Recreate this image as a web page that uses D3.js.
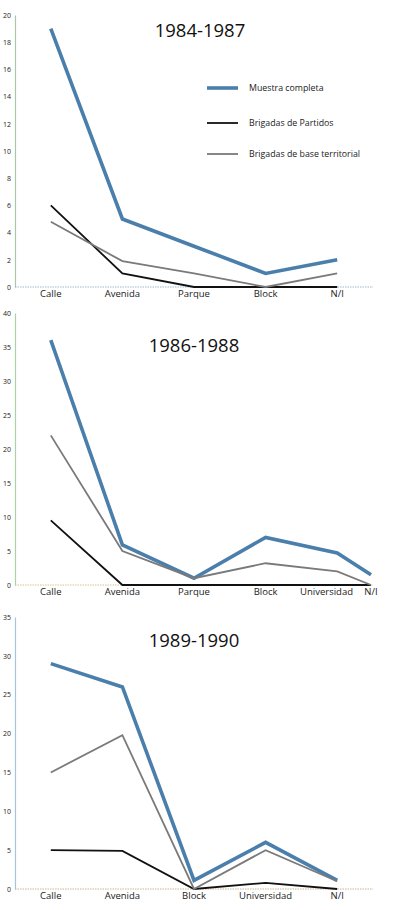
<!DOCTYPE html>
<head>
  <meta charset="utf-8">
  <script src="https://d3js.org/d3.v7.min.js"></script>
  <style>
    body { margin:0; background:#fff; font-family: "Open Sans", sans-serif; }
    .tick text { fill:#222; }
  </style>
</head>
<body>
  <script>
    // series
    var seriesNames = ["Muestra completa", "Brigadas de Partidos", "Brigadas de base territorial"];

    // 1984-1987
    var cats1 = ["Calle", "Avenida", "Parque", "Block", "N/I"];
    var muestra1 = [19, 5, 3, 1, 2];
    var partidos1 = [6, 1, 0, 0, 0];
    var base1 = [4.8, 1.9, 1, 0, 1];
    var yTicks1 = [0, 2, 4, 6, 8, 10, 12, 14, 16, 18, 20];

    // 1986-1988
    var cats2 = ["Calle", "Avenida", "Parque", "Block", "Universidad", "N/I"];
    var muestra2 = [36, 5.9, 1, 7, 4.7, 1.5];
    var partidos2 = [9.5, 0, 0, 0, 0, 0];
    var base2 = [22, 5, 1, 3.2, 2, 0];
    var yTicks2 = [0, 5, 10, 15, 20, 25, 30, 35, 40];

    // 1989-1990
    var cats3 = ["Calle", "Avenida", "Block", "Universidad", "N/I"];
    var muestra3 = [29, 26, 1.1, 6, 1.1];
    var partidos3 = [5, 4.9, 0, 0.8, 0];
    var base3 = [15, 19.8, 0, 5, 1];
    var yTicks3 = [0, 5, 10, 15, 20, 25, 30, 35];

    var titles = ["1984-1987", "1986-1988", "1989-1990"];

    var panels = [
      { title: titles[0], cats: cats1, series: [muestra1, partidos1, base1], ticks: yTicks1,
        top: 0, titleX: 200, titleY: 37, yAxisColor: '#a9c9a2', xAxisColor: '#9fb9cc', legend: true },
      { title: titles[1], cats: cats2, series: [muestra2, partidos2, base2], ticks: yTicks2,
        top: 298, titleX: 194, titleY: 54, yAxisColor: '#abd2a3', xAxisColor: '#d6c68e', legend: false },
      { title: titles[2], cats: cats3, series: [muestra3, partidos3, base3], ticks: yTicks3,
        top: 602, titleX: 194, titleY: 45, yAxisColor: '#a3c6de', xAxisColor: '#cbb88f', legend: false }
    ];

    var colors = ['#4b7fab', '#111111', '#7a7a7a'];
    var widths = [3.6, 1.8, 1.8];

    var margin = { top: 15, left: 15 };
    var width = 358, height = 272;

    var svg = d3.select("body").append("svg")
      .attr("width", 400)
      .attr("height", 910);

    panels.forEach(function(p) {
      var g = svg.append('g')
        .attr('transform', 'translate(' + margin.left + ',' + (p.top + margin.top) + ')');

      // five evenly spaced slots; an extra sixth category is squeezed at the end of the axis
      var x = d3.scalePoint()
        .domain(p.cats.slice(0, 5))
        .range([0, width])
        .padding(0.5);
      var squeezed = p.cats.length > 5;
      var xPos = function(c) {
        return (squeezed && c === p.cats[p.cats.length - 1]) ? width - 2 : x(c);
      };

      var y = d3.scaleLinear()
        .domain([0, d3.max(p.ticks)])
        .range([height, 0]);

      // y axis
      var yaxis = g.append('g')
        .call(d3.axisLeft(y).tickValues(p.ticks).tickSize(0).tickPadding(4));
      yaxis.select('.domain').attr('stroke', p.yAxisColor).attr('stroke-width', 1.2);
      yaxis.selectAll('text').style('font-size', '7px').style('font-family', '"Open Sans", sans-serif');

      // x axis line
      g.append('line')
        .attr('x1', 0).attr('x2', width)
        .attr('y1', height).attr('y2', height)
        .attr('stroke', p.xAxisColor)
        .attr('stroke-width', 1.2)
        .attr('stroke-dasharray', '1.5,1');

      // category labels
      g.selectAll('.cat')
        .data(p.cats)
        .enter()
        .append('text')
        .attr('class', 'cat')
        .text(function(d) { return d; })
        .attr('x', function(d, i) {
          if (squeezed && i === p.cats.length - 2) return xPos(p.cats[p.cats.length - 1]) - 18;
          return xPos(d);
        })
        .attr('y', height + 10)
        .attr('text-anchor', function(d, i) {
          return (squeezed && i === p.cats.length - 2) ? 'end' : 'middle';
        })
        .style('font-size', '9.5px')
        .style('fill', '#222');

      // lines
      var line = d3.line()
        .x(function(d, i) { return xPos(p.cats[i]); })
        .y(function(d) { return y(d); });

      p.series.forEach(function(vals, k) {
        g.append('path')
          .datum(vals)
          .attr('d', line)
          .attr('fill', 'none')
          .attr('stroke', colors[k])
          .attr('stroke-width', widths[k])
          .attr('stroke-linejoin', 'miter');
      });

      // title
      svg.append('text')
        .text(p.title)
        .attr('x', p.titleX)
        .attr('y', p.top + p.titleY)
        .attr('text-anchor', 'middle')
        .style('font-size', '18.5px')
        .style('fill', '#111');

      if (p.legend) {
        var leg = svg.append('g')
          .attr('transform', 'translate(207, 88)')
          .selectAll('.legend-item')
          .data(seriesNames)
          .enter()
          .append('g')
          .attr('class', 'legend-item')
          .attr('transform', function(d, i) { return 'translate(0,' + [0, 35, 66][i] + ')'; });

        leg.append('line')
          .attr('x1', 0).attr('x2', 31)
          .attr('stroke', function(d, i) { return colors[i]; })
          .attr('stroke-width', function(d, i) { return widths[i]; });

        leg.append('text')
          .text(function(d) { return d; })
          .attr('x', 42)
          .attr('dy', '0.35em')
          .style('font-size', '8.8px')
          .style('fill', '#222');
      }
    });
  </script>
</body>
